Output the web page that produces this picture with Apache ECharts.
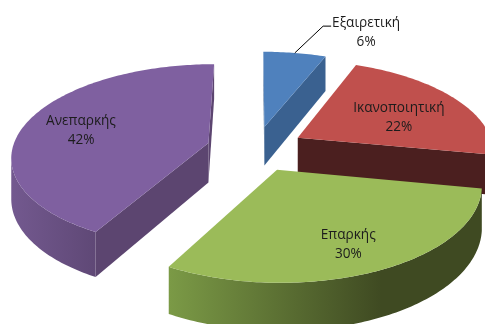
<!DOCTYPE html>
<html><head><meta charset="utf-8">
<style>html,body{margin:0;padding:0;background:#fff}#c{width:485px;height:324px}</style>
<script src="https://cdn.jsdelivr.net/npm/echarts@6/dist/echarts.min.js"></script>
</head><body><div id="c"></div>
<script>
var categories = ['Εξαιρετική', 'Ικανοποιητική', 'Επαρκής', 'Ανεπαρκής'];
var shares = [6, 22, 30, 42];
var topColors = ['#4f81bd', '#c0504d', '#9bbb59', '#7f60a0'];
var faceColors = ['#3a6190', '#4b1f1f', '#4a5a28', '#5c4570'];
var rimColors = [
  [[0, '#3a6190'], [1, '#3a6190']],
  [[0, '#4b1f1f'], [1, '#4b1f1f']],
  [[0, '#7b9a46'], [0.68, '#3f4a22'], [1, '#3f4a22']],
  [[0, '#73598f'], [1, '#5f4876']]
];
var labelRadius = [1.47, 0.6, 0.75, 0.69];
var labelTurn = [15, 5, 1, -2];

// projection of the tilted, exploded pie
var view = { cx: 255.5, cy: 148.5, rx: 196, ry: 91, persp: 0.138, depth: 40, explode: 0.25 };
var RAD = Math.PI / 180;
function project(u, v, lower) {
  var w = 1 + view.persp * v;
  return [view.cx + view.rx * u / w, view.cy + (-view.ry * v + (lower ? view.depth : 0)) / w];
}
function signedArea(p) {
  var s = 0;
  for (var i = 0; i < p.length; i++) {
    var a = p[i], b = p[(i + 1) % p.length];
    s += a[0] * b[1] - b[0] * a[1];
  }
  return s;
}
var total = shares.reduce(function (a, b) { return a + b; }, 0);

function renderSlice(params, api) {
  var idx = api.value(0);
  var before = 0;
  for (var k = 0; k < idx; k++) before += shares[k];
  var a0 = before / total * 360, a1 = (before + api.value(1)) / total * 360;
  var mid = (a0 + a1) / 2;
  var ox = view.explode * Math.sin(mid * RAD), oy = view.explode * Math.cos(mid * RAD);
  function rimPt(deg, lower, r) {
    var t = (r === undefined ? 1 : r);
    return project(ox + t * Math.sin(deg * RAD), oy + t * Math.cos(deg * RAD), lower);
  }
  var A = project(ox, oy, false), Al = project(ox, oy, true);
  var children = [];
  function poly(points, fill) {
    children.push({ type: 'polygon', shape: { points: points }, style: { fill: fill, stroke: null } });
  }
  // radial faces
  var startQ = [A, rimPt(a0, false), rimPt(a0, true), Al];
  var endQ = [A, rimPt(a1, false), rimPt(a1, true), Al];
  if (signedArea(startQ) < 0) poly(startQ, faceColors[idx]);
  if (signedArea(endQ) > 0) poly(endQ, faceColors[idx]);
  // outer wall: only the part running right-to-left along the front
  var n = Math.max(8, Math.round(a1 - a0)), upper = [], lowerPts = [];
  for (var i = 0; i < n; i++) {
    var d0 = a0 + (a1 - a0) * i / n, d1 = a0 + (a1 - a0) * (i + 1) / n;
    var p0 = rimPt(d0, false), p1 = rimPt(d1, false);
    if (p1[0] < p0[0]) {
      if (!upper.length) { upper.push(p0); lowerPts.push(rimPt(d0, true)); }
      upper.push(p1); lowerPts.push(rimPt(d1, true));
    }
  }
  if (upper.length) {
    var stops = rimColors[idx].map(function (s) { return { offset: s[0], color: s[1] }; });
    poly(upper.concat(lowerPts.slice().reverse()), new echarts.graphic.LinearGradient(0, 0, 1, 0, stops));
  }
  // top face
  var topPts = [A];
  for (var j = 0; j <= n; j++) topPts.push(rimPt(a0 + (a1 - a0) * j / n, false));
  poly(topPts, topColors[idx]);
  // label
  var lp = rimPt(mid + labelTurn[idx], false, labelRadius[idx]);
  children.push({
    type: 'text', z2: 10,
    style: {
      x: lp[0], y: lp[1] + 1,
      text: categories[idx] + '\n' + Math.round(api.value(1) / total * 100) + '%',
      align: 'center', verticalAlign: 'middle', lineHeight: 19,
      font: '13.6px "Open Sans", sans-serif', fill: '#1c1c1c'
    }
  });
  // leader line for the label that sits outside the pie
  if (labelRadius[idx] > 1) {
    var from = rimPt(mid, false);
    var tip = [lp[0] - 35, lp[1] - 5];
    children.push({
      type: 'polyline', z2: 9,
      shape: { points: [from, [tip[0] - 8, tip[1]], tip] },
      style: { stroke: '#000', lineWidth: 1, fill: null }
    });
  }
  return { type: 'group', children: children };
}

var chart = echarts.init(document.getElementById('c'), null, { renderer: 'canvas' });
chart.setOption({
  animation: false,
  backgroundColor: '#ffffff',
  series: [{
    type: 'custom',
    coordinateSystem: 'none',
    renderItem: renderSlice,
    encode: { value: 1 },
    data: shares.map(function (s, i) { return { name: categories[i], value: [i, s] }; })
  }]
});
</script></body></html>
